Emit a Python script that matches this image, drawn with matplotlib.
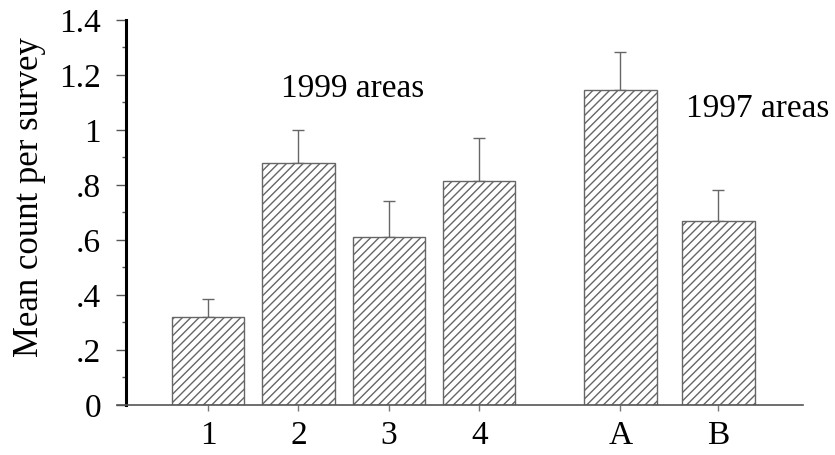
import matplotlib.pyplot as plt
from matplotlib.lines import Line2D

plt.rcParams['font.family'] = ['Liberation Serif', 'DejaVu Serif']
plt.rcParams['hatch.color'] = '#6e6e6e'
plt.rcParams['hatch.linewidth'] = 1.0

areas = ['1', '2', '3', '4', 'A', 'B']
positions = [1, 2, 3, 4, 5.56, 6.645]
means = [0.32, 0.88, 0.61, 0.815, 1.145, 0.67]
upper_err = [0.065, 0.12, 0.13, 0.155, 0.14, 0.11]
yticks = [0, 0.2, 0.4, 0.6, 0.8, 1.0, 1.2, 1.4]
ytick_labels = ['0', '.2', '.4', '.6', '.8', '1', '1.2', '1.4']

fig = plt.figure(figsize=(8.35, 4.55), dpi=100)
ax = fig.add_axes([0.1509, 0.1099, 0.8108, 0.8462])

ax.bar(positions, means, width=0.8, color='white', edgecolor='#666666',
       linewidth=1.0, hatch='////', zorder=2)
ax.errorbar(positions, means, yerr=[[0] * len(means), upper_err], fmt='none',
            ecolor='#666666', elinewidth=1.0, capsize=4, capthick=1.0, zorder=1)

ax.set_xlim(0.093, 7.58)
ax.set_ylim(0, 1.4)

ax.set_yticks(yticks)
ax.set_yticklabels(ytick_labels)
ax.set_yticks([0.1, 0.3, 0.5, 0.7, 0.9, 1.1, 1.3], minor=True)
ax.tick_params(axis='y', which='major', length=7, width=1, color='#555555',
               labelsize=24, pad=11)
ax.tick_params(axis='y', which='minor', length=3, width=1, color='#555555')

ax.set_xticks(positions)
ax.set_xticklabels(areas)
ax.tick_params(axis='x', length=4, width=1, color='#777777', labelsize=24, pad=7)

for side in ['top', 'right', 'bottom']:
    ax.spines[side].set_visible(False)
ax.spines['left'].set_linewidth(2.2)
ax.spines['left'].set_color('black')

# x axis line running slightly past the y axis
ax.add_line(Line2D([-0.013, 1], [0, 0], transform=ax.transAxes, color='#555555',
                   linewidth=1.2, clip_on=False, zorder=3))

ax.set_ylabel('Mean count per survey', fontsize=25)
ax.yaxis.set_label_coords(-0.118, 0.54)

ax.text(2.6, 1.12, '1999 areas', fontsize=24, ha='center', va='baseline')
ax.text(7.08, 1.047, '1997 areas', fontsize=24, ha='center', va='baseline')

fig.savefig('out.png', dpi=100)
